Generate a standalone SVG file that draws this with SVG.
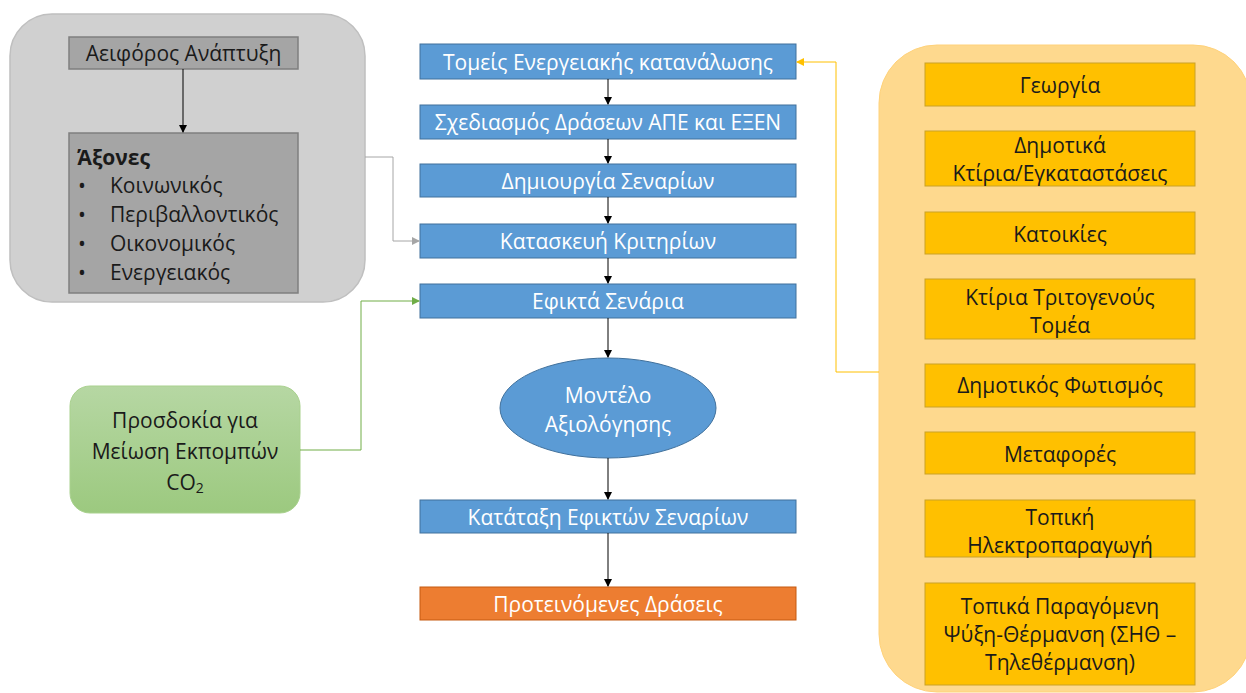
<svg xmlns="http://www.w3.org/2000/svg" width="1246" height="693" viewBox="0 0 1246 693">
<style>
text{font-family:"Open Sans","Noto Sans","DejaVu Sans",sans-serif;font-size:21px;text-anchor:middle;dominant-baseline:central}
.blue{fill:#5B9BD5;stroke:#41719C;stroke-width:1}
.wt{fill:#fff}
.org{fill:#FFC000;stroke:#C9A227;stroke-width:1}
.dk{fill:#1a1a1a}
.gbox{fill:#A5A5A5;stroke:#7F7F7F;stroke-width:1.5}
.lt{text-anchor:start}
</style>
<defs>
<marker id="ab" markerWidth="8" markerHeight="8" refX="7" refY="4" orient="auto" markerUnits="userSpaceOnUse"><path d="M0,0 L8,4 L0,8 z" fill="#000"/></marker>
<marker id="ag" markerWidth="8" markerHeight="8" refX="7" refY="4" orient="auto" markerUnits="userSpaceOnUse"><path d="M0,0 L8,4 L0,8 z" fill="#A6A6A6"/></marker>
<marker id="agr" markerWidth="8" markerHeight="8" refX="7" refY="4" orient="auto" markerUnits="userSpaceOnUse"><path d="M0,0 L8,4 L0,8 z" fill="#70AD47"/></marker>
<marker id="ay" markerWidth="8" markerHeight="8" refX="7" refY="4" orient="auto" markerUnits="userSpaceOnUse"><path d="M0,0 L8,4 L0,8 z" fill="#FFC000"/></marker>
<linearGradient id="gg" x1="0" y1="0" x2="0" y2="1"><stop offset="0" stop-color="#B6D7A3"/><stop offset="1" stop-color="#9CC97F"/></linearGradient>
</defs>

<g id="left-container">
<rect x="10" y="14" width="355" height="288" rx="42" fill="#D0D0D0" stroke="#BFBFBF" stroke-width="1.5"/>
</g>
<g id="aeiforos">
<rect class="gbox" x="69" y="37" width="229" height="32"/>
<text class="dk" x="183.5" y="53">Αειφόρος Ανάπτυξη</text>
</g>
<g id="axones">
<rect class="gbox" x="69" y="133" width="229" height="160"/>
<text class="dk lt" x="77" y="157" font-weight="bold">Άξονες</text>
<text class="dk lt" x="78" y="185">•</text><text class="dk lt" x="110" y="185">Κοινωνικός</text>
<text class="dk lt" x="78" y="214">•</text><text class="dk lt" x="110" y="214">Περιβαλλοντικός</text>
<text class="dk lt" x="78" y="243">•</text><text class="dk lt" x="110" y="243">Οικονομικός</text>
<text class="dk lt" x="78" y="272">•</text><text class="dk lt" x="110" y="272">Ενεργειακός</text>
</g>

<g id="co2">
<rect x="70" y="386" width="230" height="127" rx="20" fill="url(#gg)" stroke="#A9D18E" stroke-width="1"/>
<text class="dk" x="185" y="420">Προσδοκία για</text>
<text class="dk" x="185" y="451">Μείωση Εκπομπών</text>
<text class="dk" x="185" y="482">CO<tspan font-size="14" dy="5">2</tspan></text>
</g>

<g id="n1"><rect class="blue" x="420" y="44" width="376" height="35"/><text class="wt" x="608" y="62">Τομείς Ενεργειακής κατανάλωσης</text></g>
<g id="n2"><rect class="blue" x="420" y="105" width="376" height="34"/><text class="wt" x="608" y="122">Σχεδιασμός Δράσεων ΑΠΕ και ΕΞΕΝ</text></g>
<g id="n3"><rect class="blue" x="420" y="164" width="376" height="33"/><text class="wt" x="608" y="181">Δημιουργία Σεναρίων</text></g>
<g id="n4"><rect class="blue" x="420" y="224" width="376" height="34"/><text class="wt" x="608" y="241">Κατασκευή Κριτηρίων</text></g>
<g id="n5"><rect class="blue" x="420" y="284" width="376" height="34"/><text class="wt" x="608" y="301">Εφικτά Σενάρια</text></g>
<g id="n6"><ellipse class="blue" cx="608" cy="408" rx="108" ry="50"/><text class="wt" x="608" y="395">Μοντέλο</text><text class="wt" x="608" y="424">Αξιολόγησης</text></g>
<g id="n7"><rect class="blue" x="420" y="500" width="376" height="33"/><text class="wt" x="608" y="517">Κατάταξη Εφικτών Σεναρίων</text></g>
<g id="n8"><rect x="420" y="587" width="376" height="33" fill="#ED7D31" stroke="#C55A11" stroke-width="1"/><text class="wt" x="608" y="604">Προτεινόμενες Δράσεις</text></g>

<g id="right-container">
<rect x="879" y="45" width="372" height="647" rx="58" fill="#FED98E" stroke="#FFD27A" stroke-width="1"/>
</g>
<g id="r1"><rect class="org" x="925" y="63" width="270" height="43"/><text class="dk" x="1060" y="85">Γεωργία</text></g>
<g id="r2"><rect class="org" x="925" y="131" width="270" height="55"/><text class="dk" x="1060" y="145">Δημοτικά</text><text class="dk" x="1060" y="173">Κτίρια/Εγκαταστάσεις</text></g>
<g id="r3"><rect class="org" x="925" y="212" width="270" height="42"/><text class="dk" x="1060" y="234">Κατοικίες</text></g>
<g id="r4"><rect class="org" x="925" y="279" width="270" height="60"/><text class="dk" x="1060" y="297">Κτίρια Τριτογενούς</text><text class="dk" x="1060" y="325">Τομέα</text></g>
<g id="r5"><rect class="org" x="925" y="364" width="270" height="43"/><text class="dk" x="1060" y="385">Δημοτικός Φωτισμός</text></g>
<g id="r6"><rect class="org" x="925" y="432" width="270" height="42"/><text class="dk" x="1060" y="454">Μεταφορές</text></g>
<g id="r7"><rect class="org" x="925" y="500" width="270" height="57"/><text class="dk" x="1060" y="517">Τοπική</text><text class="dk" x="1060" y="545">Ηλεκτροπαραγωγή</text></g>
<g id="r8"><rect class="org" x="925" y="583" width="270" height="102"/><text class="dk" x="1060" y="606">Τοπικά Παραγόμενη</text><text class="dk" x="1060" y="634">Ψύξη-Θέρμανση (ΣΗΘ –</text><text class="dk" x="1060" y="662">Τηλεθέρμανση)</text></g>

<g id="connectors" fill="none" stroke-width="1">
<path d="M183,69 V132" stroke="#000" marker-end="url(#ab)"/>
<path d="M608,79 V104" stroke="#000" marker-end="url(#ab)"/>
<path d="M608,139 V163" stroke="#000" marker-end="url(#ab)"/>
<path d="M608,197 V223" stroke="#000" marker-end="url(#ab)"/>
<path d="M608,258 V283" stroke="#000" marker-end="url(#ab)"/>
<path d="M608,318 V357" stroke="#000" marker-end="url(#ab)"/>
<path d="M608,458 V499" stroke="#000" marker-end="url(#ab)"/>
<path d="M608,533 V586" stroke="#000" marker-end="url(#ab)"/>
<path d="M365,157 H393 V241 H419" stroke="#A6A6A6" marker-end="url(#ag)"/>
<path d="M300,450 H361 V301 H419" stroke="#70AD47" marker-end="url(#agr)"/>
<path d="M879,372 H836 V62 H797" stroke="#FFC000" marker-end="url(#ay)"/>
</g>
</svg>
